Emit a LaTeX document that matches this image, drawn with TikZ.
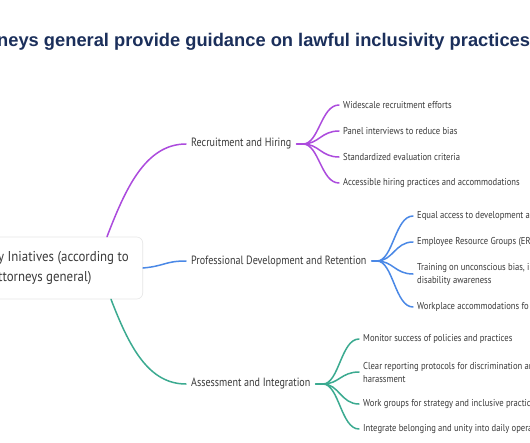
\documentclass[tikz,border=0pt]{standalone}
\usepackage{fontspec}
\usetikzlibrary{calc}
\newfontfamily\titlefont{Liberation Sans}
\newfontfamily\midfont[FakeStretch=0.84]{PT Sans}
\newfontfamily\leaffont[FakeStretch=0.86]{PT Sans}
\newfontfamily\rootfont[FakeStretch=0.9]{PT Sans}
\definecolor{titlecol}{HTML}{1B2F5B}
\definecolor{txtcol}{HTML}{3A3A3A}
\definecolor{purp}{HTML}{AC4BDD}
\definecolor{blu}{HTML}{4A88E6}
\definecolor{teal}{HTML}{3BAA90}
\definecolor{boxline}{HTML}{E6E6E6}
\tikzset{
  rootbox/.style={draw=boxline, line width=0.6pt, fill=white, rounded corners=6pt,
    font=\rootfont\fontsize{14.3}{20}\selectfont, text=txtcol, align=left,
    inner xsep=14pt, minimum height=62pt},
  midnode/.style={font=\midfont\fontsize{12}{14}\selectfont, text=txtcol,
    inner xsep=5pt, inner ysep=2pt, anchor=west},
  leafnode/.style={font=\leaffont\fontsize{10}{13}\selectfont, text=txtcol,
    inner xsep=4pt, inner ysep=2pt, anchor=west, align=left},
  conn/.style={line width=1.5pt, line cap=round},
}
\begin{document}
\begin{tikzpicture}[x=1pt,y=-1pt]
\useasboundingbox (0,0) rectangle (530,442);
\fill[white] (0,0) rectangle (530,442);
\clip (0,0) rectangle (530,442);
% title
\node[anchor=base west, inner sep=0, text=titlecol,
  font=\titlefont\bfseries\fontsize{18.3}{22}\selectfont] (title) at (-3,46)
  {neys general provide guidance on lawful inclusivity practices};
% root
\node[rootbox, anchor=east] (root) at (143,268)
  {y Iniatives (according to\\ttorneys general)};
\coordinate (rootN) at ($(root.north east)+(-36,0)$);
\coordinate (rootS) at ($(root.south east)+(-32,0)$);
% main branches
\node[midnode] (rec) at (186,144) {Recruitment and Hiring};
\node[midnode] (pro) at (186,261) {Professional Development and Retention};
\node[midnode] (ass) at (186,384) {Assessment and Integration};
\draw[conn, purp] (rootN) .. controls (125,190) and (145,144) .. (rec.west);
\draw[conn, blu] (root.east) .. controls (165,266) and (165,261) .. (pro.west);
\draw[conn, teal] (rootS) .. controls (129,346) and (148,384) .. (ass.west);
% leaves: recruitment
\node[leafnode] (r1) at (339,105) {Widescale recruitment efforts};
\node[leafnode] (r2) at (339,131) {Panel interviews to reduce bias};
\node[leafnode] (r3) at (339,157) {Standardized evaluation criteria};
\node[leafnode] (r4) at (339,183) {Accessible hiring practices and accommodations};
\coordinate (rh) at (303,144);
\draw[conn, purp] (rec.east) -- (rh);
\foreach \n in {r1,r2,r3,r4}
  \draw[conn, purp] (rh) .. controls +(16,0) and +(-18,0) .. (\n.west);
% leaves: professional
\node[leafnode] (p1) at (413,216) {Equal access to development a};
\node[leafnode] (p2) at (413,242) {Employee Resource Groups (ER};
\node[leafnode] (p3) at (413,274) {Training on unconscious bias, i\\disability awareness};
\node[leafnode] (p4) at (413,307) {Workplace accommodations fo};
\coordinate (ph) at (377,261);
\draw[conn, blu] (pro.east) -- (ph);
\foreach \n in {p1,p2,p3,p4}
  \draw[conn, blu] (ph) .. controls +(16,0) and +(-18,0) .. (\n.west);
% leaves: assessment
\node[leafnode] (a1) at (359,339) {Monitor success of policies and practices};
\node[leafnode] (a2) at (359,372) {Clear reporting protocols for discrimination an\\harassment};
\node[leafnode] (a3) at (359,404) {Work groups for strategy and inclusive practic};
\node[leafnode] (a4) at (359,429) {Integrate belonging and unity into daily operat};
\coordinate (ah) at (323,384);
\draw[conn, teal] (ass.east) -- (ah);
\foreach \n in {a1,a2,a3,a4}
  \draw[conn, teal] (ah) .. controls +(16,0) and +(-18,0) .. (\n.west);
\end{tikzpicture}
\end{document}
